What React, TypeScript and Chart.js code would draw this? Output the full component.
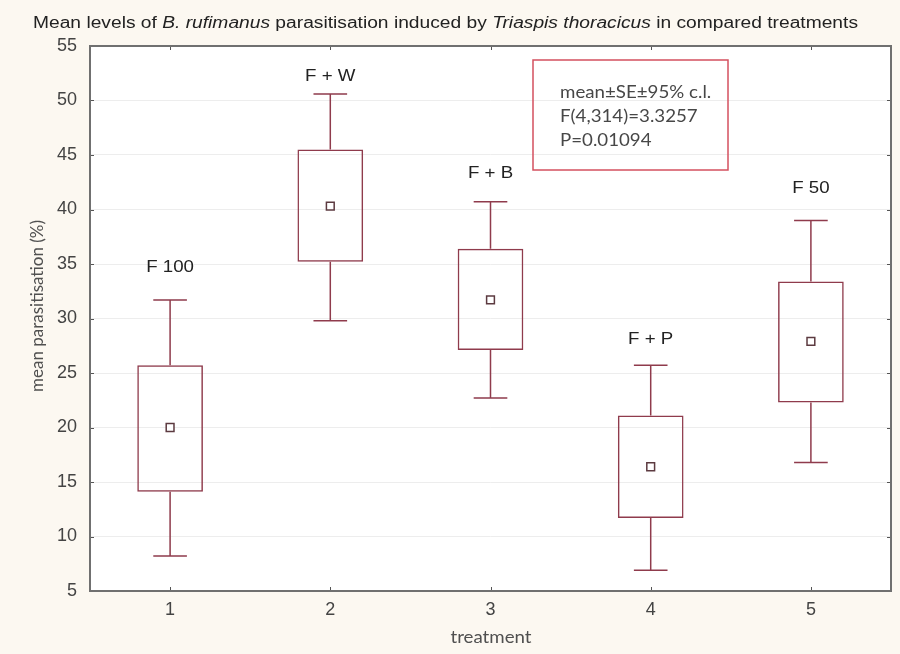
import React, { useEffect, useRef } from "react";
import { Chart, registerables } from "chart.js";

Chart.register(...registerables);

// ---- data ----
const categories = ["1", "2", "3", "4", "5"];
const treatmentNames = ["F 100", "F + W", "F + B", "F + P", "F 50"];
const meanValues = [20.0, 40.3, 31.7, 16.4, 27.9];
const seLower = [14.1, 35.2, 27.1, 11.7, 22.3];
const seUpper = [25.7, 45.5, 36.4, 21.1, 33.4];
const ciLower = [8.2, 29.8, 22.7, 6.9, 16.8];
const ciUpper = [31.7, 50.6, 40.7, 25.7, 39.0];
const nameLabelValues = [34.7, 52.2, 43.3, 28.1, 41.9];
const yMin = 5;
const yMax = 55;
const yStep = 5;
const statsLines = ["mean±SE±95% c.l.", "F(4,314)=3.3257", "P=0.01094"];
const titleParts: [string, boolean][] = [
  ["Mean levels of ", false],
  ["B. rufimanus", true],
  [" parasitisation induced by ", false],
  ["Triaspis thoracicus", true],
  [" in compared treatments", false],
];
const xTitle = "treatment";
const yTitle = "mean parasitisation (%)";

// ---- style ----
const BG = "#fcf8f1";
const BOX = "#8f3b4c";
const FRAME = "#707070";
const STATS_BORDER = "#d4505f";
const SANS = "'Liberation Sans', Arial, sans-serif";
const HUMAN = "Lato, 'Open Sans', sans-serif";

function stretchedText(ctx: any, text: string, x: number, y: number, sx: number) {
  ctx.save();
  ctx.translate(x, y);
  ctx.scale(sx, 1);
  ctx.fillText(text, 0, 0);
  ctx.restore();
}

const decor = {
  id: "decor",
  beforeDraw(chart: any) {
    const { ctx, chartArea: ca, width, height } = chart;
    ctx.save();
    ctx.fillStyle = BG;
    ctx.fillRect(0, 0, width, height);
    ctx.fillStyle = "#ffffff";
    ctx.fillRect(ca.left, ca.top, ca.right - ca.left, ca.bottom - ca.top);
    ctx.restore();
  },
  afterDatasetsDraw(chart: any) {
    const { ctx, chartArea: ca } = chart;
    const xs = chart.scales.x;
    const ys = chart.scales.y;
    const catW = (ca.right - ca.left) / categories.length;
    const capHalf = catW * 0.105;
    ctx.save();
    ctx.strokeStyle = BOX;
    ctx.lineWidth = 1.5;
    for (let i = 0; i < categories.length; i++) {
      const x = xs.getPixelForValue(i);
      const yTop = ys.getPixelForValue(ciUpper[i]);
      const yBoxTop = ys.getPixelForValue(seUpper[i]);
      const yBoxBot = ys.getPixelForValue(seLower[i]);
      const yBot = ys.getPixelForValue(ciLower[i]);
      ctx.beginPath();
      ctx.moveTo(x, yTop);
      ctx.lineTo(x, yBoxTop);
      ctx.moveTo(x, yBoxBot);
      ctx.lineTo(x, yBot);
      ctx.moveTo(x - capHalf, yTop);
      ctx.lineTo(x + capHalf, yTop);
      ctx.moveTo(x - capHalf, yBot);
      ctx.lineTo(x + capHalf, yBot);
      ctx.stroke();
    }
    // treatment names
    ctx.fillStyle = "#222222";
    ctx.font = `17px ${SANS}`;
    ctx.textAlign = "center";
    ctx.textBaseline = "middle";
    for (let i = 0; i < categories.length; i++) {
      stretchedText(ctx, treatmentNames[i], xs.getPixelForValue(i), ys.getPixelForValue(nameLabelValues[i]), 1.1);
    }
    // stats box
    const bx = ca.left + 443;
    const by = ca.top + 14;
    ctx.strokeStyle = STATS_BORDER;
    ctx.lineWidth = 1.5;
    ctx.strokeRect(bx, by, 195, 110);
    ctx.fillStyle = "#474747";
    ctx.font = `17px ${HUMAN}`;
    ctx.textAlign = "left";
    statsLines.forEach((t, k) => stretchedText(ctx, t, bx + 27, by + 33 + k * 24, 1.1));
    ctx.restore();
  },
  afterDraw(chart: any) {
    const { ctx, chartArea: ca } = chart;
    const xs = chart.scales.x;
    const ys = chart.scales.y;
    ctx.save();
    // ticks
    ctx.strokeStyle = "#555555";
    ctx.lineWidth = 1;
    ctx.beginPath();
    for (let v = yMin; v <= yMax; v += yStep) {
      const y = Math.round(ys.getPixelForValue(v)) + 0.5;
      ctx.moveTo(ca.left, y);
      ctx.lineTo(ca.left + 4, y);
      ctx.moveTo(ca.right - 4, y);
      ctx.lineTo(ca.right, y);
    }
    for (let i = 0; i < categories.length; i++) {
      const x = Math.round(xs.getPixelForValue(i)) + 0.5;
      ctx.moveTo(x, ca.top);
      ctx.lineTo(x, ca.top + 4);
      ctx.moveTo(x, ca.bottom - 4);
      ctx.lineTo(x, ca.bottom);
    }
    ctx.stroke();
    // frame
    ctx.strokeStyle = FRAME;
    ctx.lineWidth = 2;
    ctx.strokeRect(ca.left, ca.top, ca.right - ca.left, ca.bottom - ca.top);
    // title (stretched to span like the original)
    ctx.fillStyle = "#222222";
    ctx.textBaseline = "alphabetic";
    ctx.textAlign = "left";
    let total = 0;
    for (const [text, italic] of titleParts) {
      ctx.font = `${italic ? "italic " : ""}16px ${SANS}`;
      total += ctx.measureText(text).width;
    }
    const sx = 825 / total;
    ctx.save();
    ctx.translate(33, 28);
    ctx.scale(sx, 1);
    let tx = 0;
    for (const [text, italic] of titleParts) {
      ctx.font = `${italic ? "italic " : ""}16px ${SANS}`;
      ctx.fillText(text, tx, 0);
      tx += ctx.measureText(text).width;
    }
    ctx.restore();
    // axis titles
    ctx.fillStyle = "#505050";
    ctx.font = `17px ${HUMAN}`;
    ctx.textAlign = "center";
    ctx.textBaseline = "middle";
    stretchedText(ctx, xTitle, 491, 638, 1.1);
    ctx.translate(38, 306);
    ctx.rotate(-Math.PI / 2);
    ctx.fillText(yTitle, 0, 0);
    ctx.restore();
  },
};

export default function App() {
  const ref = useRef<HTMLCanvasElement | null>(null);
  useEffect(() => {
    if (!ref.current) return;
    const chart = new Chart(ref.current, {
      type: "bar",
      data: {
        labels: categories,
        datasets: [
          {
            type: "bar",
            label: "SE",
            data: seLower.map((l, i) => [l, seUpper[i]]) as any,
            backgroundColor: "rgba(255,255,255,0)",
            borderColor: BOX,
            borderWidth: 1.5,
            borderSkipped: false,
            barPercentage: 0.41,
            categoryPercentage: 1,
          },
          {
            type: "line",
            label: "mean",
            data: meanValues,
            showLine: false,
            pointStyle: "rect",
            pointRadius: 5.5,
            pointBackgroundColor: "#ffffff",
            pointBorderColor: "#5c3a40",
            pointBorderWidth: 1.5,
          } as any,
        ],
      },
      options: {
        responsive: false,
        animation: false,
        events: [],
        layout: { padding: { top: 46, right: 9, left: 0, bottom: 0 } },
        plugins: { legend: { display: false }, tooltip: { enabled: false }, title: { display: false } },
        scales: {
          x: {
            type: "category",
            offset: true,
            grid: { display: false, drawTicks: false },
            border: { display: false },
            ticks: { color: "#444444", font: { family: SANS, size: 18 }, padding: 8 },
            afterFit: (s: any) => {
              s.height = 63;
            },
          },
          y: {
            min: yMin,
            max: yMax,
            grid: { color: "#ededed", drawTicks: false, lineWidth: 1 },
            border: { display: false },
            ticks: { stepSize: yStep, color: "#444444", font: { family: SANS, size: 18 }, padding: 13 },
            afterFit: (s: any) => {
              s.width = 90;
            },
          },
        },
      },
      plugins: [decor],
    });
    return () => chart.destroy();
  }, []);
  return (
    <div style={{ position: "fixed", left: 0, top: 0, width: 900, height: 654, background: BG }}>
      <canvas ref={ref} width={900} height={654} style={{ display: "block" }} />
    </div>
  );
}
